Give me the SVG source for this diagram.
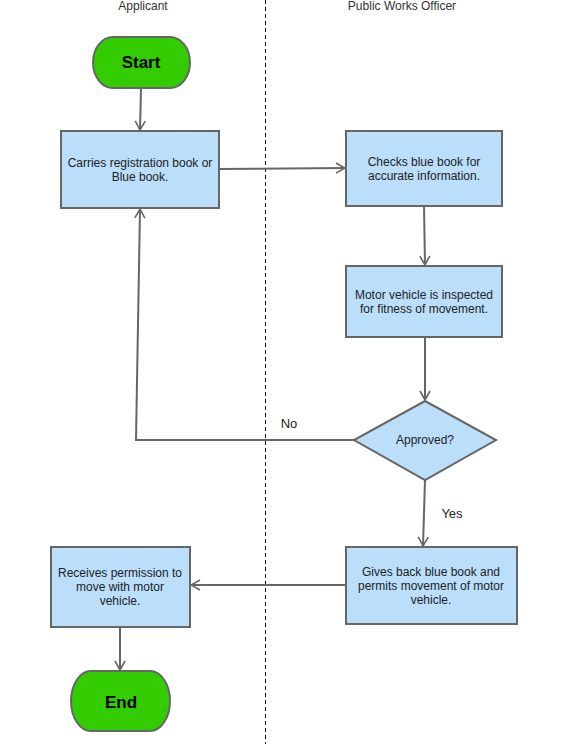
<svg xmlns="http://www.w3.org/2000/svg" width="574" height="744" viewBox="0 0 574 744">
<style>
text{font-family:"Liberation Sans",Arial,sans-serif;fill:#222;}
.lbl{font-size:12px;text-anchor:middle;}
.hdr{font-size:12px;text-anchor:middle;fill:#333;}
.term{font-size:17px;font-weight:bold;text-anchor:middle;fill:#000;}
.box{fill:#bbdefb;stroke:#666;stroke-width:2;}
.green{fill:#33cc00;stroke:#666;stroke-width:2;}
.conn{fill:none;stroke:#666;stroke-width:2;marker-end:url(#arr);}
.elab{font-size:13px;text-anchor:middle;fill:#222;}
</style>
<defs>
<marker id="arr" viewBox="0 0 12 12" refX="11" refY="6" markerWidth="12" markerHeight="12" markerUnits="userSpaceOnUse" orient="auto">
<path d="M2,1 L11,6 L2,11" fill="none" stroke="#666" stroke-width="1.6"/>
</marker>
</defs>
<rect width="574" height="744" fill="#fff"/>
<g id="lanes">
<line x1="265.5" y1="0" x2="265.5" y2="744" stroke="#111" stroke-width="1" stroke-dasharray="4,3"/>
<text class="hdr" x="143" y="10">Applicant</text>
<text class="hdr" x="402" y="10">Public Works Officer</text>
</g>
<g id="connectors">
<path class="conn" d="M141,88 L140,130"/>
<path class="conn" d="M219,169 L345,168"/>
<path class="conn" d="M424,206 L425,265"/>
<path class="conn" d="M425,337 L425,400"/>
<path class="conn" d="M354,440 L136,440 L140,209"/>
<path class="conn" d="M425,480 L423,546"/>
<path class="conn" d="M346,585 L191,585"/>
<path class="conn" d="M120,627 L120,670"/>
<text class="elab" x="289" y="428">No</text>
<text class="elab" x="452" y="518">Yes</text>
</g>
<g id="start">
<path class="green" d="M113,37 L170,37 A20,25.5 0 0 1 170,88 L113,88 A20,25.5 0 0 1 113,37 Z"/>
<text class="term" x="141" y="68">Start</text>
</g>
<g id="carries">
<rect class="box" x="61" y="131" width="158" height="77"/>
<text class="lbl" x="140" y="167">Carries registration book or</text>
<text class="lbl" x="140" y="181">Blue book.</text>
</g>
<g id="checks">
<rect class="box" x="346" y="131" width="156" height="75"/>
<text class="lbl" x="424" y="166">Checks blue book for</text>
<text class="lbl" x="424" y="180">accurate information.</text>
</g>
<g id="inspected">
<rect class="box" x="346" y="266" width="156" height="71"/>
<text class="lbl" x="424" y="299">Motor vehicle is inspected</text>
<text class="lbl" x="424" y="313">for fitness of movement.</text>
</g>
<g id="approved">
<polygon class="box" points="425,401 496,440 425,480 354,440"/>
<text class="lbl" x="425" y="444">Approved?</text>
</g>
<g id="gives">
<rect class="box" x="346" y="547" width="171" height="77"/>
<text class="lbl" x="431" y="576">Gives back blue book and</text>
<text class="lbl" x="431" y="590">permits movement of motor</text>
<text class="lbl" x="431" y="604">vehicle.</text>
</g>
<g id="receives">
<rect class="box" x="51" y="547" width="139" height="80"/>
<text class="lbl" x="120" y="577">Receives permission to</text>
<text class="lbl" x="120" y="591">move with motor</text>
<text class="lbl" x="120" y="605">vehicle.</text>
</g>
<g id="end">
<path class="green" d="M91,671 L150,671 A20,30 0 0 1 150,731 L91,731 A20,30 0 0 1 91,671 Z"/>
<text class="term" x="121" y="708">End</text>
</g>
</svg>
